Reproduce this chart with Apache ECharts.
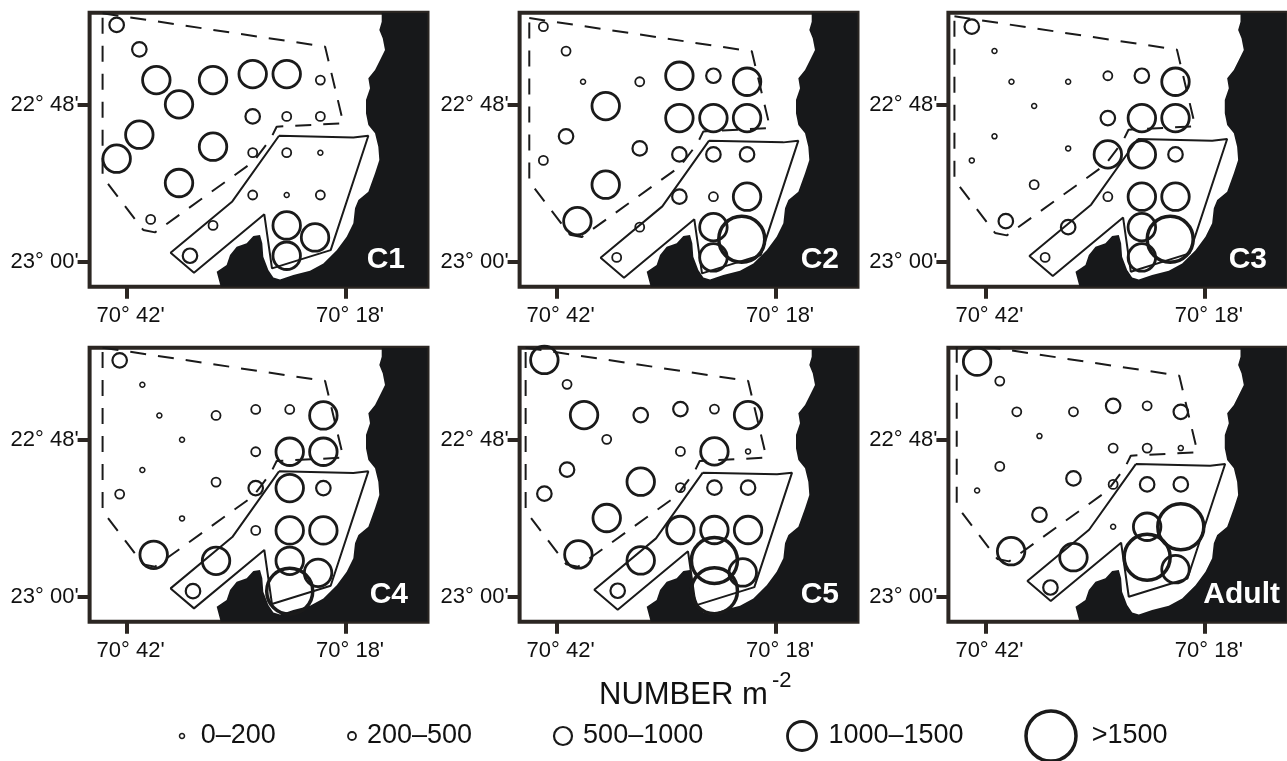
<!DOCTYPE html>
<html><head><meta charset="utf-8">
<style>html,body{margin:0;padding:0;background:#fff;overflow:hidden}#c{width:1287px;height:761px}</style>
<script src="https://cdn.jsdelivr.net/npm/echarts@6/dist/echarts.min.js"></script>
</head><body><div id="c"></div>
<script>
// Longitude = 70 deg + x minutes, latitude = 22 deg + y minutes
const panelNames = ['C1','C2','C3','C4','C5','Adult'];
const lonTicks = [42,18];
const lonTickLabels = ["70° 42'","70° 18'"];
const latTicks = [48,60];
const latTickLabels = ["22° 48'","23° 00'"];
const classLabels = ['0–200','200–500','500–1000','1000–1500','>1500'];

const stationLon = [43.09,40.61,38.75,36.27,32.55,28.21,24.49,20.81,28.21,24.49,20.81,40.61,43.09,32.55,28.21,24.49,20.81,36.27,28.21,24.49,20.81,39.37,32.55,24.49,21.39,35.07,24.49];
const stationLat = [41.87,43.74,46.09,47.95,46.09,45.63,45.63,46.09,48.87,48.87,48.87,50.27,52.11,51.19,51.65,51.65,51.65,53.97,54.89,54.89,54.89,56.76,57.22,57.22,58.14,59.54,59.54];

// abundance class per station (0: 0-200 ... 4: >1500), null: no sample
const classC1 = [2,2,3,3,3,3,3,1,2,1,1,3,3,3,1,1,0,3,1,0,1,1,1,3,3,2,3];
const classC2 = [1,1,0,3,1,3,2,3,3,3,3,2,1,2,2,2,2,3,2,1,3,3,1,3,4,1,3];
const classC3 = [2,0,0,0,0,1,2,3,2,3,3,0,0,0,3,3,2,1,1,3,3,2,2,3,4,1,3];
const classC4 = [2,0,0,0,1,1,1,3,1,3,3,0,1,1,2,3,2,0,1,3,3,3,3,3,3,2,4];
const classC5 = [3,1,3,1,2,2,1,3,1,3,0,2,2,3,1,2,2,3,3,3,3,3,3,4,3,2,4];
const classAdult = [3,1,1,0,1,2,1,2,1,1,0,1,0,2,1,2,2,2,0,3,4,3,3,4,3,2,null];
const panelClasses = [classC1,classC2,classC3,classC4,classC5,classAdult];

// Per-panel registration shift of the overlays, in minutes [lon, lat]
const stationShift = [[0,0],[0.36,0.13],[0.40,0.13],[-0.33,0.03],[0.25,0],[-0.18,-0.25]];
const dashShift = [[0,0],[0.36,0.36],[0.76,0.23],[0,-0.05],[0.76,-0.05],[0.51,-0.46]];
const solidShift = [[0,0],[0,0.38],[0,0.25],[0,0.05],[0.69,0.15],[0.22,-0.51]];
const adultFirstLatFix = 0.38;

const coastLon = [31.71,32.15,31.06,30.69,29.96,28.87,28.14,27.41,27.16,27.05,26.50,25.95,25.22,23.77,21.94,20.48,19.02,17.93,17.2,17.02,16.65,15.56,14.83,14.36,14.47,14.83,15.56,15.82,15.82,15.38,15.56,14.83,14.28,13.74,13.99,14.36,14.1,14.1,9.09,9.09];
const coastLat = [61.91,60.76,60.25,59.49,58.85,58.59,58.03,57.96,58.59,59.62,60.64,61.2,61.35,61.02,60.69,60.13,59.11,58.08,57.06,55.91,55.28,54.64,53.23,52.21,51.19,50.17,49.53,48.64,47.62,46.72,45.96,45.32,44.55,43.79,42.89,42.26,41.62,40.94,40.94,61.91];

const solidLon = [25.33,17.2,17.02,15.56,19.68,26.1,26.94,34.63,37.19,30.44,25.33];
const solidLat = [50.35,50.48,50.55,50.35,59.11,60.51,56.37,60.84,59.31,55.38,50.35];
const dashLon = [44.63,20.29,18.29,25.59,26.24,28.14,38.9,40.18,44.63,44.63];
const dashLat = [40.98,43.53,49.40,49.66,50.58,52.34,57.75,57.57,53.49,40.98];

// Layout
const gridW = 337.9, gridH = 273.9;
const panelLeft = [89.6,519.6,948.4,89.6,519.6,948.4];
const panelTop = [12.8,12.8,12.8,347.8,347.8,347.8];
const labelRight = [405,839,1267,408,839,1280];
const sizes = [5,9,14.5,27.5,46];
const widths = [1.5,1.8,2.2,2.8,3.5];
const ink = '#1a1a1a', frame = '#2b2622', land = '#17181a', FONT = 'Liberation Sans';
const legendCx = [182,352,563,802,1051];
const legendTextLeft = [200,366,582,827,1090];
const legendSizes = [5,8,18,29,50];

const grids=[],xAxes=[],yAxes=[],series=[],titles=[];
panelNames.forEach((name,p)=>{
  grids.push({left:panelLeft[p],top:panelTop[p],width:gridW,height:gridH,show:true,borderColor:frame,borderWidth:4,backgroundColor:'#fff',containLabel:false});
  xAxes.push({type:'value',gridIndex:p,inverse:true,min:9.09,max:46.05,position:'bottom',splitLine:{show:false},axisLine:{show:false},
    axisTick:{show:true,customValues:lonTicks,length:12,lineStyle:{color:frame,width:4}},
    axisLabel:{show:true,customValues:lonTicks,margin:18,padding:[0,0,0,8],color:'#111',fontFamily:FONT,fontSize:22,
      formatter:v=>lonTickLabels[lonTicks.indexOf(v)]}});
  yAxes.push({type:'value',gridIndex:p,inverse:true,min:40.94,max:61.91,position:'left',splitLine:{show:false},axisLine:{show:false},
    axisTick:{show:true,customValues:latTicks,length:12,lineStyle:{color:frame,width:4}},
    axisLabel:{show:true,customValues:latTicks,margin:11,padding:[0,0,6,0],color:'#111',fontFamily:FONT,fontSize:22,
      formatter:v=>latTickLabels[latTicks.indexOf(v)]}});
  series.push({type:'custom',xAxisIndex:p,yAxisIndex:p,silent:true,z:2,clip:true,data:[0],
    renderItem:(params,api)=>({type:'polygon',shape:{points:coastLon.map((lo,i)=>api.coord([lo,coastLat[i]]))},style:{fill:land}})});
  series.push({type:'line',xAxisIndex:p,yAxisIndex:p,silent:true,z:3,symbol:'none',animation:false,
    lineStyle:{color:ink,width:2,type:[16,12]},
    data:dashLon.map((lo,i)=>[lo+dashShift[p][0],dashLat[i]+dashShift[p][1]])});
  series.push({type:'line',xAxisIndex:p,yAxisIndex:p,silent:true,z:3,symbol:'none',animation:false,
    lineStyle:{color:ink,width:2},
    data:solidLon.map((lo,i)=>[lo+solidShift[p][0],solidLat[i]+solidShift[p][1]])});
  const pts=[];
  panelClasses[p].forEach((c,i)=>{ if(c===null) return;
    const fix=(p===5&&i===0)?adultFirstLatFix:0;
    pts.push({value:[stationLon[i]+stationShift[p][0],stationLat[i]+stationShift[p][1]+fix],symbolSize:sizes[c],
      itemStyle:{color:'transparent',borderColor:ink,borderWidth:widths[c],opacity:1}});
  });
  series.push({type:'scatter',xAxisIndex:p,yAxisIndex:p,silent:true,z:4,clip:false,symbol:'circle',data:pts,animation:false});
  titles.push({text:name,left:labelRight[p],top:panelTop[p]+232,textAlign:'right',padding:0,z:10,
    textStyle:{color:'#fff',fontFamily:FONT,fontWeight:'bold',fontSize:30}});
});
titles.push({text:'NUMBER m',left:599,top:680,padding:0,textStyle:{color:'#111',fontFamily:FONT,fontWeight:'normal',fontSize:31}});
titles.push({text:'-2',left:772,top:670,padding:0,textStyle:{color:'#111',fontFamily:FONT,fontWeight:'normal',fontSize:22}});

// Legend row on its own hidden grid
grids.push({left:0,top:700,width:1287,height:61,show:false});
xAxes.push({type:'value',gridIndex:6,min:0,max:1287,show:false});
yAxes.push({type:'value',gridIndex:6,min:0,max:61,inverse:true,show:false});
series.push({type:'scatter',xAxisIndex:6,yAxisIndex:6,silent:true,z:5,clip:false,animation:false,
  data:classLabels.map((t,i)=>({value:[legendCx[i],36],symbolSize:legendSizes[i],
    itemStyle:{color:'transparent',borderColor:ink,borderWidth:widths[i],opacity:1},
    label:{show:true,position:'right',distance:legendTextLeft[i]-legendCx[i]-legendSizes[i]/2,formatter:t,color:'#111',fontFamily:FONT,fontSize:27}}))});

const chart=echarts.init(document.getElementById('c'),null,{renderer:'canvas'});
chart.setOption({animation:false,backgroundColor:'#fff',title:titles,grid:grids,xAxis:xAxes,yAxis:yAxes,series:series});
</script></body></html>
